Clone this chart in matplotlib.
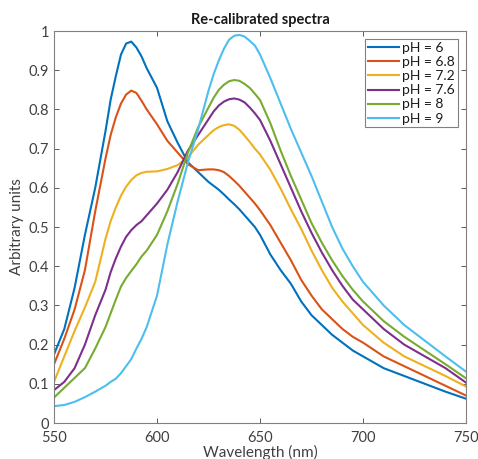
import matplotlib
matplotlib.use("Agg")
import matplotlib.pyplot as plt

# ── Data ────────────────────────────────────────────────────────────────────
wavelength = [550, 555, 560, 565, 570, 575, 577.5, 580, 582.5, 585,
              587.5, 590, 592.5, 595, 600, 605, 610, 615, 620, 625,
              627.5, 630, 632.5, 635, 637.5, 640, 642.5, 645, 647.5, 650,
              655, 660, 665, 670, 675, 680, 685, 690, 695, 700,
              710, 720, 730, 740, 750]

ph_6 = [0.175, 0.24, 0.345, 0.48, 0.60, 0.745, 0.825, 0.885, 0.94, 0.968,
        0.973, 0.958, 0.935, 0.905, 0.855, 0.77, 0.715, 0.665, 0.64, 0.615,
        0.605, 0.595, 0.583, 0.57, 0.558, 0.545, 0.53, 0.515, 0.50, 0.48,
        0.43, 0.39, 0.355, 0.31, 0.275, 0.25, 0.225, 0.205, 0.185, 0.17,
        0.14, 0.12, 0.10, 0.08, 0.062]

ph_68 = [0.15, 0.215, 0.29, 0.39, 0.54, 0.675, 0.735, 0.78, 0.815, 0.838,
         0.848, 0.842, 0.822, 0.80, 0.762, 0.72, 0.69, 0.66, 0.645, 0.647,
         0.647, 0.645, 0.64, 0.63, 0.618, 0.605, 0.59, 0.575, 0.56, 0.543,
         0.505, 0.46, 0.415, 0.365, 0.325, 0.29, 0.265, 0.24, 0.22, 0.205,
         0.17, 0.145, 0.12, 0.095, 0.07]

ph_72 = [0.105, 0.17, 0.235, 0.295, 0.36, 0.47, 0.515, 0.55, 0.58, 0.603,
         0.62, 0.632, 0.638, 0.641, 0.642, 0.648, 0.658, 0.678, 0.71, 0.735,
         0.747, 0.755, 0.76, 0.762, 0.758, 0.748, 0.733, 0.717, 0.70, 0.685,
         0.646, 0.598, 0.545, 0.495, 0.44, 0.39, 0.345, 0.31, 0.28, 0.25,
         0.205, 0.17, 0.145, 0.12, 0.093]

ph_76 = [0.084, 0.105, 0.14, 0.20, 0.275, 0.34, 0.385, 0.42, 0.45, 0.475,
         0.492, 0.505, 0.515, 0.53, 0.56, 0.595, 0.64, 0.695, 0.735, 0.775,
         0.795, 0.81, 0.82, 0.826, 0.828, 0.825, 0.818, 0.805, 0.79, 0.773,
         0.72, 0.66, 0.60, 0.54, 0.485, 0.435, 0.39, 0.35, 0.315, 0.29,
         0.24, 0.20, 0.17, 0.14, 0.103]

ph_8 = [0.065, 0.09, 0.115, 0.14, 0.19, 0.245, 0.28, 0.315, 0.348, 0.37,
        0.388, 0.405, 0.425, 0.44, 0.48, 0.54, 0.61, 0.69, 0.755, 0.805,
        0.83, 0.85, 0.863, 0.872, 0.875, 0.873, 0.865, 0.855, 0.84, 0.824,
        0.765, 0.695, 0.63, 0.57, 0.51, 0.46, 0.415, 0.375, 0.34, 0.31,
        0.26, 0.22, 0.185, 0.15, 0.114]

ph_9 = [0.043, 0.046, 0.054, 0.066, 0.08, 0.095, 0.105, 0.113, 0.127, 0.145,
        0.163, 0.19, 0.215, 0.245, 0.325, 0.455, 0.565, 0.665, 0.75, 0.848,
        0.89, 0.925, 0.955, 0.978, 0.988, 0.99, 0.986, 0.975, 0.963, 0.94,
        0.88, 0.815, 0.75, 0.69, 0.63, 0.565, 0.50, 0.445, 0.40, 0.36,
        0.30, 0.25, 0.21, 0.17, 0.131]

series = [ph_6, ph_68, ph_72, ph_76, ph_8, ph_9]
labels = ["pH = 6", "pH = 6.8", "pH = 7.2", "pH = 7.6", "pH = 8", "pH = 9"]
colors = ["#0072BD", "#D95319", "#EDB120", "#7E2F8E", "#77AC30", "#4DBEEE"]

# ── Style ───────────────────────────────────────────────────────────────────
plt.rcParams["font.family"] = ["Lato", "DejaVu Sans"]
GRAY = "#404040"

fig = plt.figure(figsize=(4.78, 4.59), dpi=100)
ax = fig.add_axes([0.113, 0.0784, 0.862, 0.854])

for vals, lab, col in zip(series, labels, colors):
    ax.plot(wavelength, vals, color=col, linewidth=1.5, label=lab,
            solid_joinstyle="round")

ax.set_xlim(550, 750)
ax.set_ylim(0, 1)
ax.set_xticks(range(550, 751, 50))
ax.set_yticks([i / 10 for i in range(11)])
ax.set_yticklabels(["0", "0.1", "0.2", "0.3", "0.4", "0.5",
                    "0.6", "0.7", "0.8", "0.9", "1"])

ax.tick_params(direction="in", length=3.5, width=0.6, colors=GRAY,
               labelsize=10.5, top=True, right=True)
ax.tick_params(axis="x", pad=6)
for sp in ax.spines.values():
    sp.set_color("#808080")
    sp.set_linewidth(0.8)

ax.set_title("Re-calibrated spectra", fontsize=10.5, fontweight="bold",
             color="#1a1a1a", pad=5)
ax.set_xlabel("Wavelength (nm)", fontsize=11, color=GRAY, labelpad=0)
ax.set_ylabel("Arbitrary units", fontsize=11, color=GRAY, labelpad=3)

leg = ax.legend(loc="upper right", fontsize=10, frameon=True, fancybox=False,
                framealpha=1, edgecolor="#808080", handlelength=2.25,
                handletextpad=0.2, labelspacing=0.15, borderpad=0.2,
                borderaxespad=0.6)
leg.get_frame().set_linewidth(0.8)
for t in leg.get_texts():
    t.set_color("#1a1a1a")

fig.savefig("out.png", dpi=100)
